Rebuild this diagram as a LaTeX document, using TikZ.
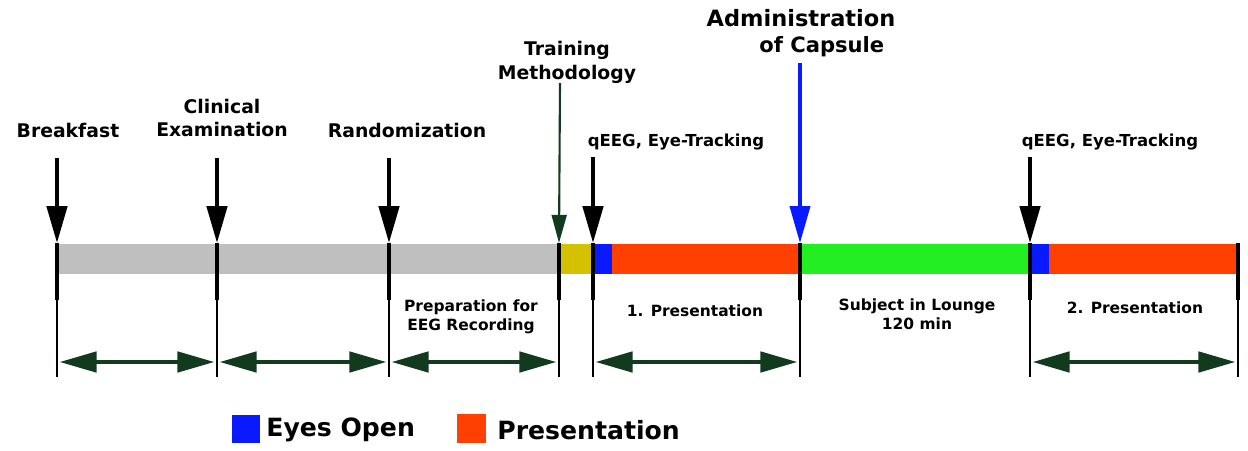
\documentclass[tikz,border=0pt]{standalone}
\usepackage{fontspec}
\setmainfont{DejaVu Sans}
\usetikzlibrary{arrows.meta}
\definecolor{barGray}{HTML}{BFBFBF}
\definecolor{barGold}{HTML}{D4C100}
\definecolor{eyeBlue}{HTML}{0A1AFF}
\definecolor{presOrange}{HTML}{FF4000}
\definecolor{loungeGreen}{HTML}{22EE22}
\definecolor{spanGreen}{HTML}{123A1E}

\begin{document}
\begin{tikzpicture}[x=0.02cm,y=-0.02cm,line cap=butt,
  bigtxt/.style={align=center,inner sep=0pt,font=\bfseries\fontsize{10.7}{13.6}\selectfont},
  midtxt/.style={align=center,inner sep=0pt,font=\bfseries\fontsize{9.4}{11.4}\selectfont},
  smalltxt/.style={align=center,inner sep=0pt,font=\bfseries\fontsize{8.8}{11}\selectfont},
  evt/.style={line width=2.3pt,-{Triangle[length=21pt,width=11.5pt]}},
  span/.style={spanGreen,line width=2.3pt,shorten <=1.5pt,shorten >=1.5pt,
    {Triangle[length=21pt,width=11.5pt]}-{Triangle[length=21pt,width=11.5pt]}}]
\path[use as bounding box,fill=white] (0,0) rectangle (1248,450);

% timeline bar
\fill[barGray] (57,244) rectangle (559,274);
\fill[barGold] (559,244) rectangle (593,274);
\fill[eyeBlue] (593,244) rectangle (612,274);
\fill[presOrange] (612,244) rectangle (800,274);
\fill[loungeGreen] (800,244) rectangle (1030,274);
\fill[eyeBlue] (1030,244) rectangle (1049,274);
\fill[presOrange] (1049,244) rectangle (1236,274);

% ticks
\foreach \x [count=\i] in {57,217,389,559,593,800,1030,1238}{
  \coordinate (t\i) at (\x,243);
  \coordinate (b\i) at (\x,362);
  \draw[line width=2.8pt] (\x,243) -- (\x,300);
  \draw[line width=1.1pt] (\x,300) -- (\x,377);
}

% events
\node[bigtxt] (breakfast) at (68,130) {Breakfast};
\node[bigtxt] (clinical) at (222,118) {Clinical\\Examination};
\node[bigtxt] (random) at (407,130) {Randomization};
\node[bigtxt] (training) at (567,62) {Training\\Methodology};
\node[align=left,inner sep=0pt,font=\bfseries\fontsize{12.8}{14.8}\selectfont] (capsule) at (801,33)
  {Administration\\\hspace*{30pt}{\fontsize{12}{14.8}\selectfont of Capsule}};
\node[midtxt] (qeegA) at (676,142) {qEEG, Eye-Tracking};
\node[midtxt] (qeegB) at (1110,142) {qEEG, Eye-Tracking};

\coordinate (a1) at (57,158);
\coordinate (a2) at (217,158);
\coordinate (a3) at (389,158);
\coordinate (a4) at (560,83);
\coordinate (a5) at (593,157);
\coordinate (a6) at (800,63);
\coordinate (a7) at (1030,157);
\draw[evt] (a1) -- (t1);
\draw[evt] (a2) -- (t2);
\draw[evt] (a3) -- (t3);
\draw[spanGreen,line width=1.2pt,-{Triangle[length=16pt,width=8.5pt]}] (a4) -- (t4);
\draw[evt] (a5) -- (t5);
\draw[eyeBlue,line width=1.8pt,-{Triangle[length=21pt,width=11.5pt]}] (a6) -- (t6);
\draw[evt] (a7) -- (t7);

% phases
\node[smalltxt] (prep) at (471,317) {Preparation for\\EEG Recording};
\node[smalltxt] (presA) at (695,311) {1. Presentation};
\node[smalltxt] (lounge) at (917,314) {Subject in Lounge\\120 min};
\node[smalltxt] (presB) at (1135,308) {2. Presentation};

\draw[span] (b1) -- (b2);
\draw[span] (b2) -- (b3);
\draw[span] (b3) -- (b4);
\draw[span] (b5) -- (b6);
\draw[span] (b7) -- (b8);

% legend
\fill[eyeBlue] (232,415) rectangle (260,443);
\node[anchor=west,inner sep=0pt,font=\bfseries\fontsize{14.3}{16}\selectfont] (eyes) at (266,430) {Eyes Open};
\fill[presOrange] (457,414) rectangle (486,443);
\node[anchor=west,inner sep=0pt,font=\bfseries\fontsize{14.3}{16}\selectfont] (pres) at (497,430) {Presentation};
\end{tikzpicture}
\end{document}
